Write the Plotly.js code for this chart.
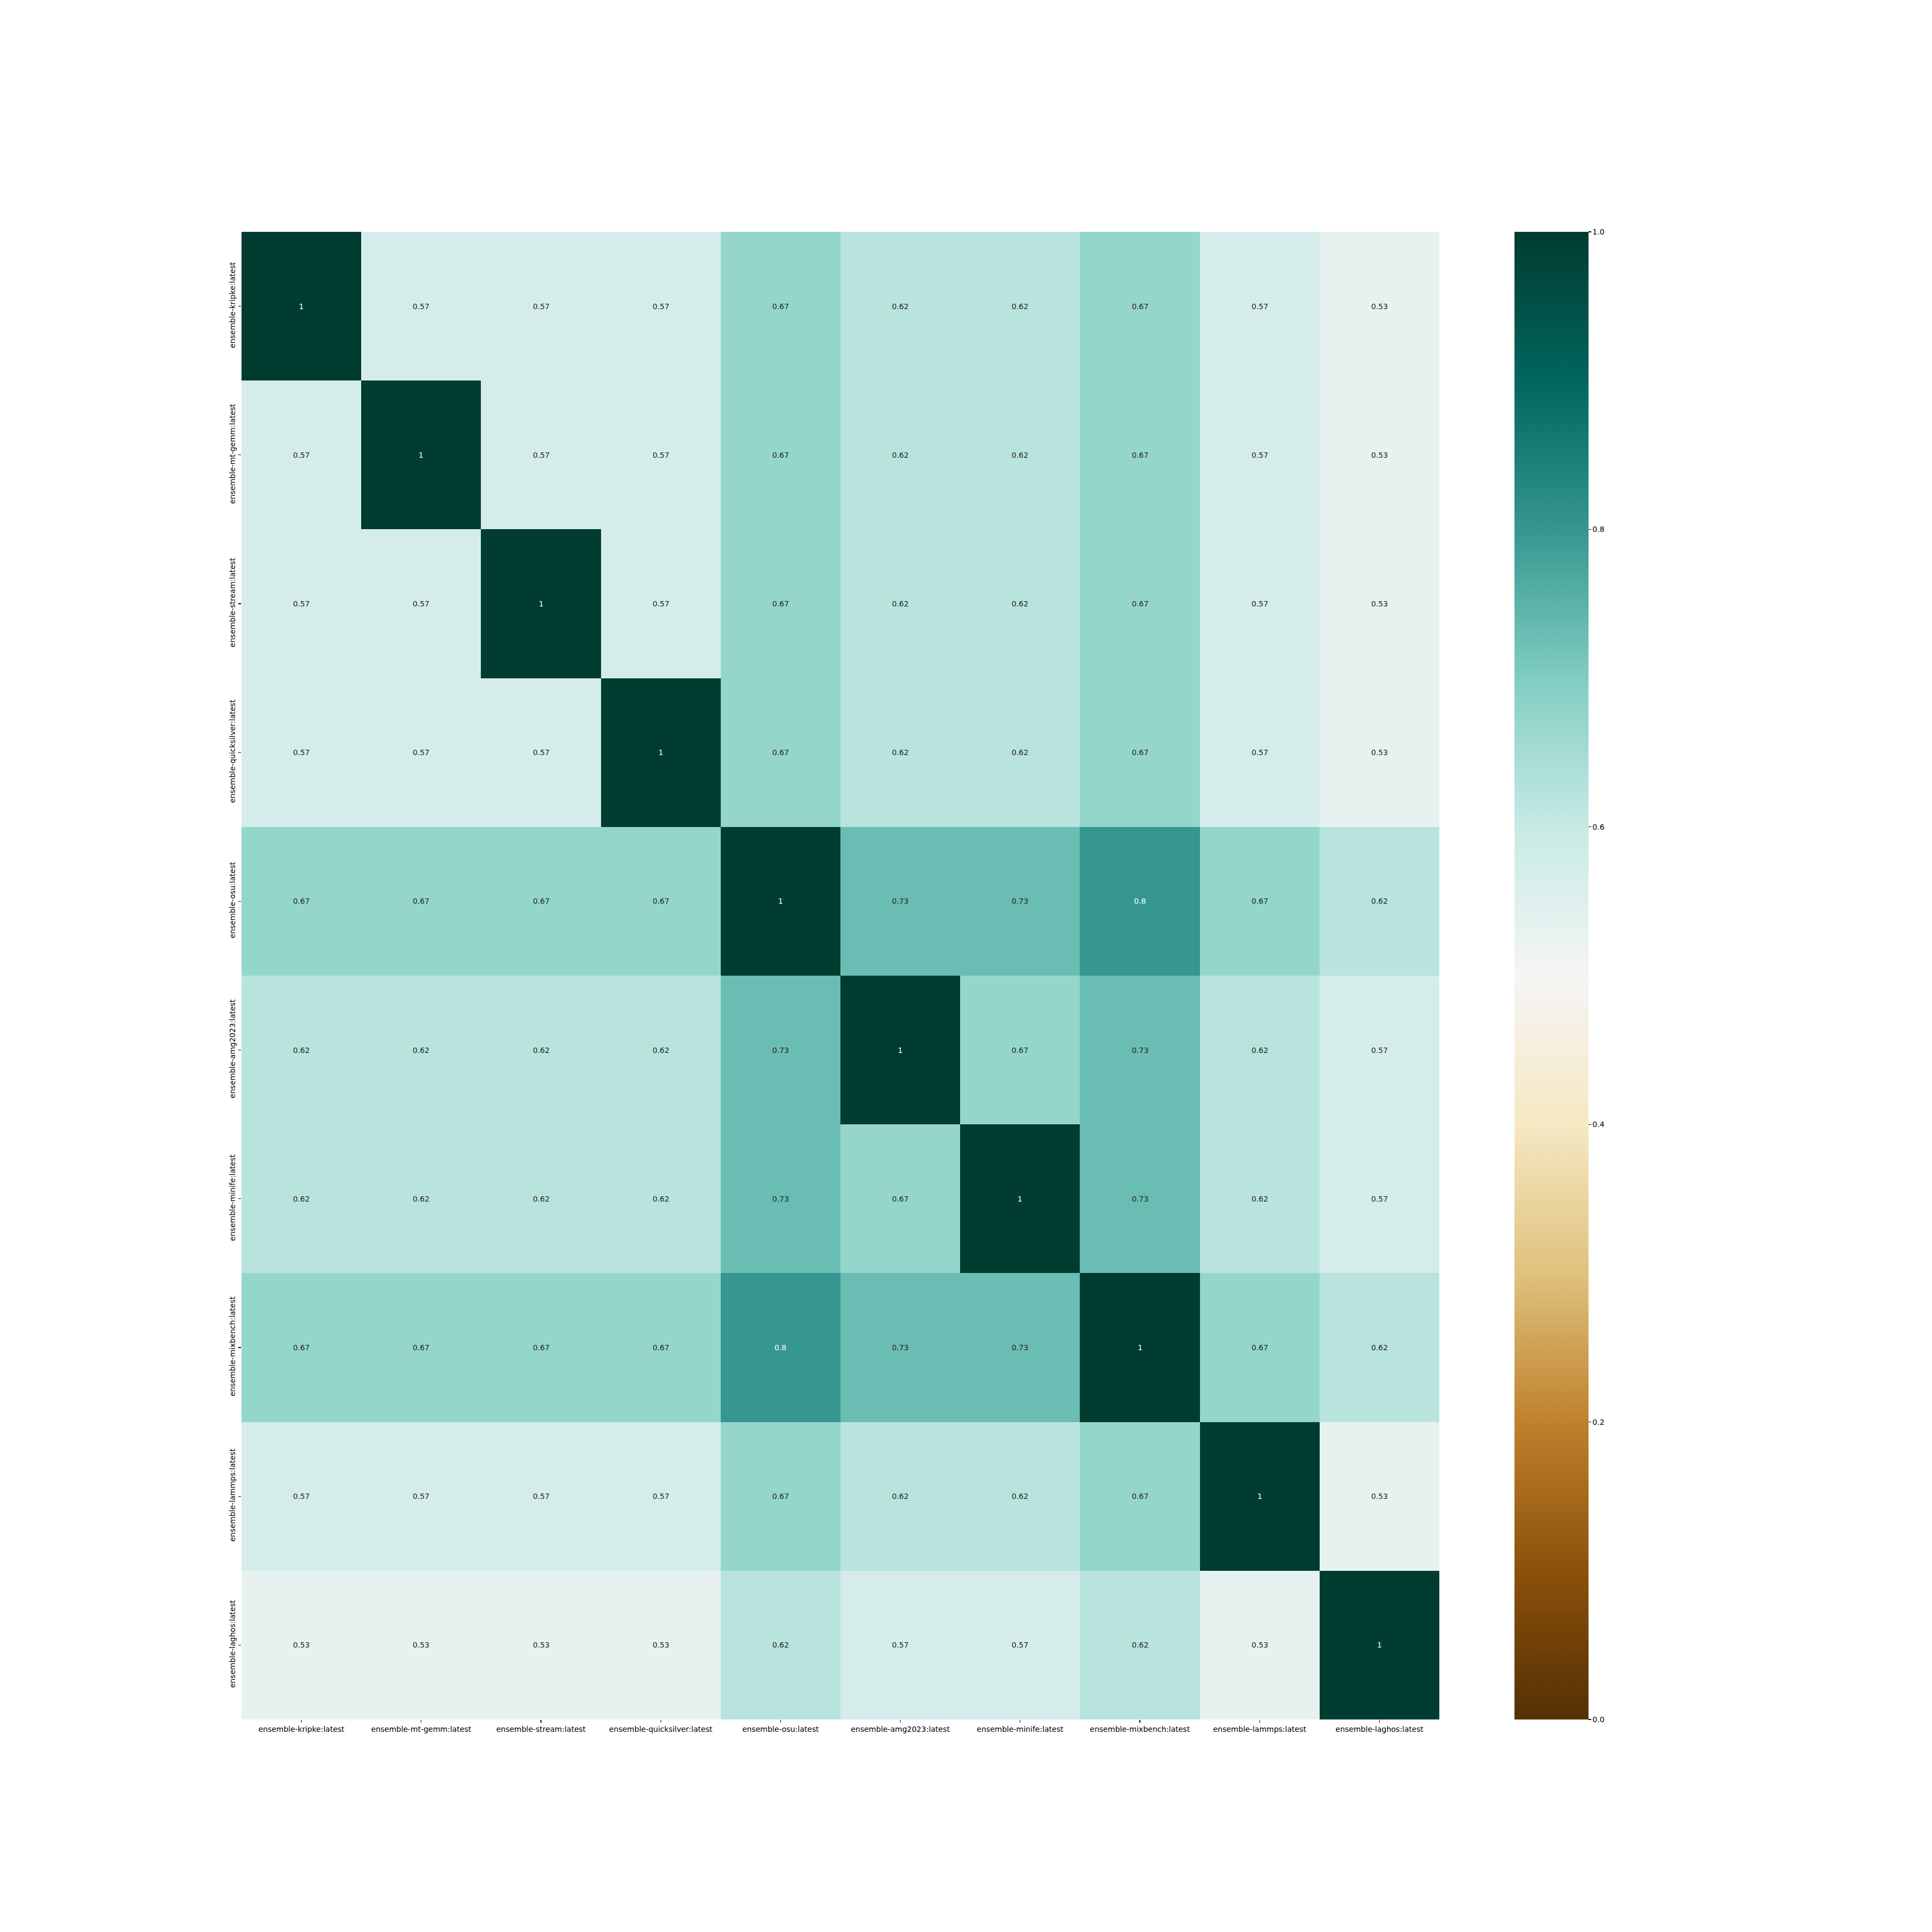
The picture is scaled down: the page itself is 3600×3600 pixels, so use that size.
<!DOCTYPE html>
<html>
<head>
<meta charset="utf-8">
<script src="https://cdn.plot.ly/plotly-3.0.1.min.js"></script>
<style>html,body{margin:0;padding:0;background:#fff;}</style>
</head>
<body>
<div id="chart" style="width:3600px;height:3600px;"></div>
<script>
const labels = [
  "ensemble-kripke:latest",
  "ensemble-mt-gemm:latest",
  "ensemble-stream:latest",
  "ensemble-quicksilver:latest",
  "ensemble-osu:latest",
  "ensemble-amg2023:latest",
  "ensemble-minife:latest",
  "ensemble-mixbench:latest",
  "ensemble-lammps:latest",
  "ensemble-laghos:latest"
];

const rowKripke      = [1, 0.57, 0.57, 0.57, 0.67, 0.62, 0.62, 0.67, 0.57, 0.53];
const rowMtGemm      = [0.57, 1, 0.57, 0.57, 0.67, 0.62, 0.62, 0.67, 0.57, 0.53];
const rowStream      = [0.57, 0.57, 1, 0.57, 0.67, 0.62, 0.62, 0.67, 0.57, 0.53];
const rowQuicksilver = [0.57, 0.57, 0.57, 1, 0.67, 0.62, 0.62, 0.67, 0.57, 0.53];
const rowOsu         = [0.67, 0.67, 0.67, 0.67, 1, 0.73, 0.73, 0.8, 0.67, 0.62];
const rowAmg2023     = [0.62, 0.62, 0.62, 0.62, 0.73, 1, 0.67, 0.73, 0.62, 0.57];
const rowMinife      = [0.62, 0.62, 0.62, 0.62, 0.73, 0.67, 1, 0.73, 0.62, 0.57];
const rowMixbench    = [0.67, 0.67, 0.67, 0.67, 0.8, 0.73, 0.73, 1, 0.67, 0.62];
const rowLammps      = [0.57, 0.57, 0.57, 0.57, 0.67, 0.62, 0.62, 0.67, 1, 0.53];
const rowLaghos      = [0.53, 0.53, 0.53, 0.53, 0.62, 0.57, 0.57, 0.62, 0.53, 1];

const z = [rowKripke, rowMtGemm, rowStream, rowQuicksilver, rowOsu,
           rowAmg2023, rowMinife, rowMixbench, rowLammps, rowLaghos];

const colorbarTicks = [0, 0.2, 0.4, 0.6, 0.8, 1.0];

// matplotlib BrBG
const brbg = [
  [0.0, "#543005"], [0.1, "#8c510a"], [0.2, "#bf812d"], [0.3, "#dfc27d"],
  [0.4, "#f6e8c3"], [0.5, "#f5f5f5"], [0.6, "#c7eae5"], [0.7, "#80cdc1"],
  [0.8, "#35978f"], [0.9, "#01665e"], [1.0, "#003c30"]
];

function hexToRgb(h){ return [parseInt(h.slice(1,3),16), parseInt(h.slice(3,5),16), parseInt(h.slice(5,7),16)]; }
function colorAt(v){
  for (let i = 0; i < brbg.length - 1; i++) {
    const [a, ca] = brbg[i], [b, cb] = brbg[i+1];
    if (v >= a && v <= b) {
      const t = (v - a) / (b - a);
      const A = hexToRgb(ca), B = hexToRgb(cb);
      return A.map((x, k) => x + (B[k] - x) * t);
    }
  }
  return hexToRgb(brbg[brbg.length-1][1]);
}
function lum(rgb){
  const c = rgb.map(x => { x = x/255; return x <= 0.03928 ? x/12.92 : Math.pow((x+0.055)/1.055, 2.4); });
  return 0.2126*c[0] + 0.7152*c[1] + 0.0722*c[2];
}

const annotations = [];
z.forEach((row, i) => {
  row.forEach((v, j) => {
    const txtColor = lum(colorAt(v)) > 0.408 ? "#262626" : "#ffffff";
    annotations.push({
      x: labels[j], y: labels[i], xref: "x", yref: "y",
      text: String(v), showarrow: false,
      font: {family: "DejaVu Sans", size: 14, color: txtColor}
    });
  });
});

const trace = {
  type: "heatmap",
  x: labels, y: labels, z: z,
  zmin: 0, zmax: 1,
  colorscale: brbg,
  hoverinfo: "none",
  colorbar: {
    x: (2822 - 450) / 2232, xanchor: "left", xpad: 0, ypad: 0,
    y: 0.5, yanchor: "middle", len: 1, lenmode: "fraction",
    thickness: 138, thicknessmode: "pixels",
    outlinewidth: 0,
    tickvals: colorbarTicks, ticktext: colorbarTicks.map(v => v.toFixed(1)),
    ticks: "outside", ticklen: 5, tickwidth: 1.1, tickcolor: "#000",
    tickfont: {family: "DejaVu Sans", size: 14, color: "#000"}
  }
};

const layout = {
  width: 3600, height: 3600,
  margin: {l: 450, r: 918, t: 432, b: 396, pad: 0},
  paper_bgcolor: "#fff", plot_bgcolor: "#fff",
  showlegend: false,
  xaxis: {
    type: "category", showgrid: false, zeroline: false, showline: false,
    ticks: "outside", ticklen: 5, tickwidth: 1.1, tickcolor: "#000",
    tickangle: 0,
    tickfont: {family: "DejaVu Sans", size: 14, color: "#000"}
  },
  yaxis: {
    type: "category", autorange: "reversed", showgrid: false, zeroline: false, showline: false,
    ticks: "outside", ticklen: 5, tickwidth: 1.1, tickcolor: "#000",
    tickangle: -90,
    tickfont: {family: "DejaVu Sans", size: 14, color: "#000"}
  },
  annotations: annotations
};

Plotly.newPlot("chart", [trace], layout, {displayModeBar: false, staticPlot: true});
</script>
</body>
</html>
